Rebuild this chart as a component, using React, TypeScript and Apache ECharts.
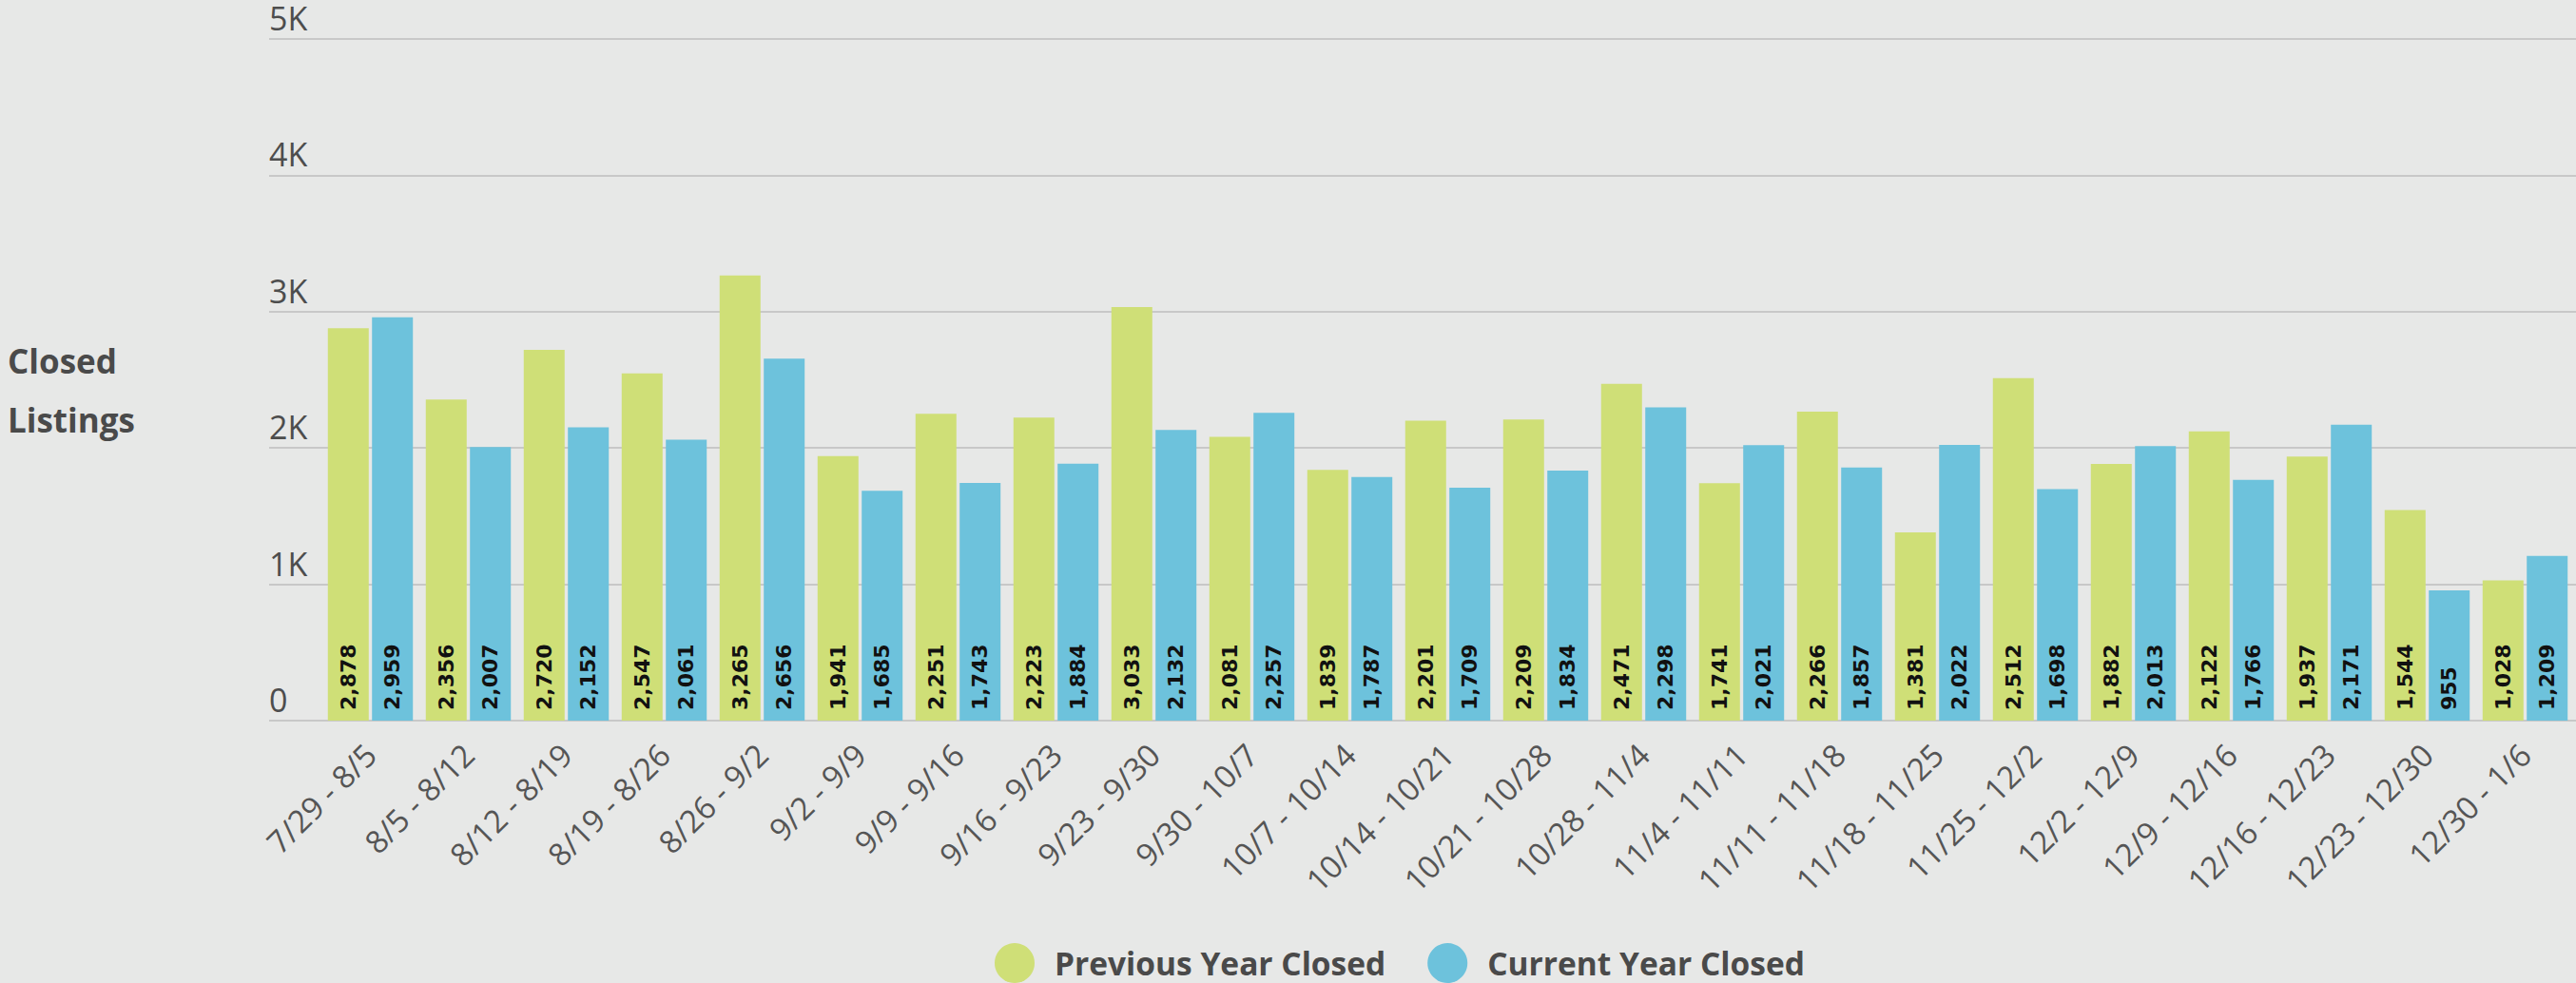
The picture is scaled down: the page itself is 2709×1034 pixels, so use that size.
import React, { useEffect, useRef } from "react";
import * as echarts from "echarts";

const categories = [
  "7/29 - 8/5", "8/5 - 8/12", "8/12 - 8/19", "8/19 - 8/26", "8/26 - 9/2", "9/2 - 9/9",
  "9/9 - 9/16", "9/16 - 9/23", "9/23 - 9/30", "9/30 - 10/7", "10/7 - 10/14", "10/14 - 10/21",
  "10/21 - 10/28", "10/28 - 11/4", "11/4 - 11/11", "11/11 - 11/18", "11/18 - 11/25",
  "11/25 - 12/2", "12/2 - 12/9", "12/9 - 12/16", "12/16 - 12/23", "12/23 - 12/30", "12/30 - 1/6",
];
const previousYear = [2878, 2356, 2720, 2547, 3265, 1941, 2251, 2223, 3033, 2081, 1839, 2201, 2209, 2471, 1741, 2266, 1381, 2512, 1882, 2122, 1937, 1544, 1028];
const currentYear = [2959, 2007, 2152, 2061, 2656, 1685, 1743, 1884, 2132, 2257, 1787, 1709, 1834, 2298, 2021, 1857, 2022, 1698, 2013, 1766, 2171, 955, 1209];
const yTicks = { min: 0, max: 5000, interval: 1000 };
const seriesNames = ["Previous Year Closed", "Current Year Closed"];
const axisTitle = "Closed\nListings";

const FONT = "Open Sans";
const fmt = (v: number) => String(v).replace(/\B(?=(\d{3})+(?!\d))/g, ",");

export default function App() {
  const ref = useRef<HTMLDivElement>(null);
  useEffect(() => {
    document.body.style.margin = "0";
    document.body.style.background = "#e7e8e7";
    const chart = echarts.init(ref.current!, null, { renderer: "svg" });
    const label = {
      show: true,
      position: "insideBottom",
      distance: 11,
      rotate: 90,
      align: "left",
      verticalAlign: "middle",
      fontFamily: "DejaVu Sans",
      fontWeight: "bold",
      fontSize: 22,
      color: "#111",
      formatter: (p: any) => fmt(p.value),
    };
    chart.setOption({
      animation: false,
      backgroundColor: "#e7e8e7",
      title: {
        text: axisTitle,
        left: 3,
        top: 343,
        textStyle: { fontFamily: FONT, fontWeight: "bold", fontSize: 35, lineHeight: 62, color: "#4a4a4a" },
      },
      legend: {
        left: 1041,
        top: 987,
        icon: "circle",
        itemWidth: 42,
        itemHeight: 42,
        itemGap: 44,
        textStyle: { fontFamily: FONT, fontWeight: "bold", fontSize: 33.5, color: "#4a4a4a", padding: [0, 0, 0, 16] },
        data: seriesNames,
      },
      grid: [
        { left: 283, right: 0, top: 41, bottom: 276 },
        { left: 338, right: 2, top: 41, bottom: 276 },
      ],
      xAxis: [
        { gridIndex: 0, type: "category", data: categories, show: false },
        {
          gridIndex: 1,
          type: "category",
          data: categories,
          axisLine: { show: false },
          axisTick: { show: false },
          axisLabel: { interval: 0, rotate: 45, margin: 30, fontFamily: FONT, fontSize: 33, color: "#555" },
        },
      ],
      yAxis: [
        {
          gridIndex: 0,
          type: "value",
          min: yTicks.min,
          max: yTicks.max,
          interval: yTicks.interval,
          axisLine: { show: false },
          axisTick: { show: false },
          splitLine: { lineStyle: { color: "#c8c8c8", width: 2 } },
          axisLabel: {
            inside: true,
            margin: 0,
            verticalAlign: "bottom",
            lineHeight: 34,
            padding: [0, 0, 5, 0],
            fontFamily: FONT,
            fontSize: 34,
            color: "#4d4d4d",
            formatter: (v: number) => (v === 0 ? "0" : v / 1000 + "K"),
          },
        },
        { gridIndex: 1, type: "value", min: yTicks.min, max: yTicks.max, interval: yTicks.interval, show: false, splitLine: { show: false } },
      ],
      series: [
        {
          name: seriesNames[0],
          type: "bar",
          xAxisIndex: 1,
          yAxisIndex: 1,
          data: previousYear,
          barWidth: 43,
          barGap: "8%",
          itemStyle: { color: "#cfdf77" },
          label,
        },
        {
          name: seriesNames[1],
          type: "bar",
          xAxisIndex: 1,
          yAxisIndex: 1,
          data: currentYear,
          barWidth: 43,
          barGap: "8%",
          itemStyle: { color: "#6dc2dc" },
          label,
        },
      ],
    });
    return () => chart.dispose();
  }, []);
  return <div ref={ref} style={{ position: "absolute", left: 0, top: 0, width: 2709, height: 1034 }} />;
}
